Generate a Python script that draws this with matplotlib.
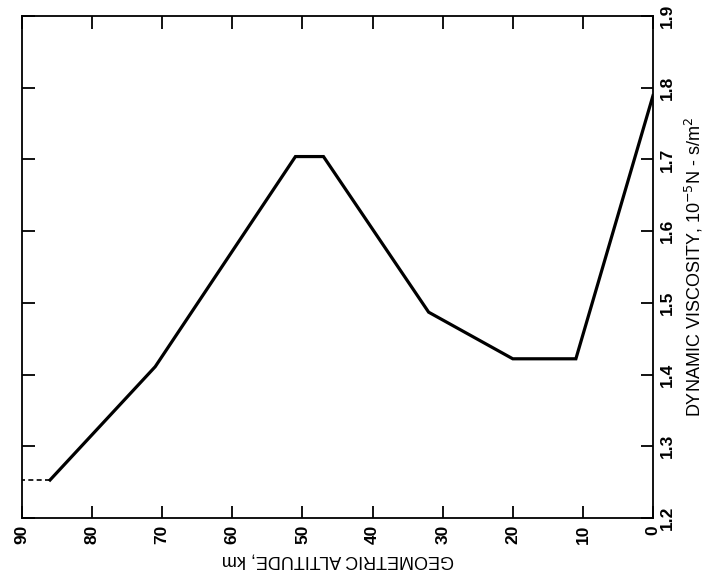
import matplotlib.pyplot as plt

plt.rcParams['font.family'] = ['Liberation Sans', 'DejaVu Sans']

# altitude (km) and dynamic viscosity (10^-5 N s/m^2), standard atmosphere layers
altitude = [0, 11, 20, 32, 47, 51, 71, 86]
viscosity = [1.789, 1.422, 1.422, 1.487, 1.704, 1.704, 1.411, 1.253]

# extension dashed up to 90 km
ext_altitude = [86, 90]
ext_viscosity = [1.253, 1.253]

alt_ticks = [90, 80, 70, 60, 50, 40, 30, 20, 10, 0]
visc_ticks = [1.2, 1.3, 1.4, 1.5, 1.6, 1.7, 1.8, 1.9]

fig = plt.figure(figsize=(7.14, 5.82), dpi=100)
ax = fig.add_axes([22 / 714, 64 / 582, 631 / 714, 502 / 582])

ax.plot(altitude, viscosity, color='black', linewidth=2.3, solid_joinstyle='miter')
ax.plot(ext_altitude, ext_viscosity, color='black', linewidth=1.2, linestyle=(0, (3, 2)))

ax.set_xlim(90, 0)
ax.set_ylim(1.2, 1.9)
ax.set_xticks(alt_ticks)
ax.set_yticks(visc_ticks)
ax.set_xticklabels([str(t) for t in alt_ticks], rotation=90, fontweight='bold')
ax.set_yticklabels([f'{t:.1f}' for t in visc_ticks], rotation=90, va='center',
                   fontweight='bold')

ax.tick_params(axis='both', direction='in', length=9, width=1.3, labelsize=12.5,
               top=True, right=True, left=True, bottom=True,
               labelleft=False, labelright=True, labelbottom=True)
ax.tick_params(axis='x', pad=5)
ax.tick_params(axis='y', pad=5)

for s in ax.spines.values():
    s.set_linewidth(1.3)

ax.set_xlabel('GEOMETRIC ALTITUDE, km', fontsize=13, rotation=180, labelpad=5)
ax.yaxis.set_label_position('right')
ax.set_ylabel('DYNAMIC VISCOSITY, 10$^{-5}$N - s/m$^2$', fontsize=13,
              rotation=90, labelpad=6)

fig.savefig('out.png', dpi=100)
